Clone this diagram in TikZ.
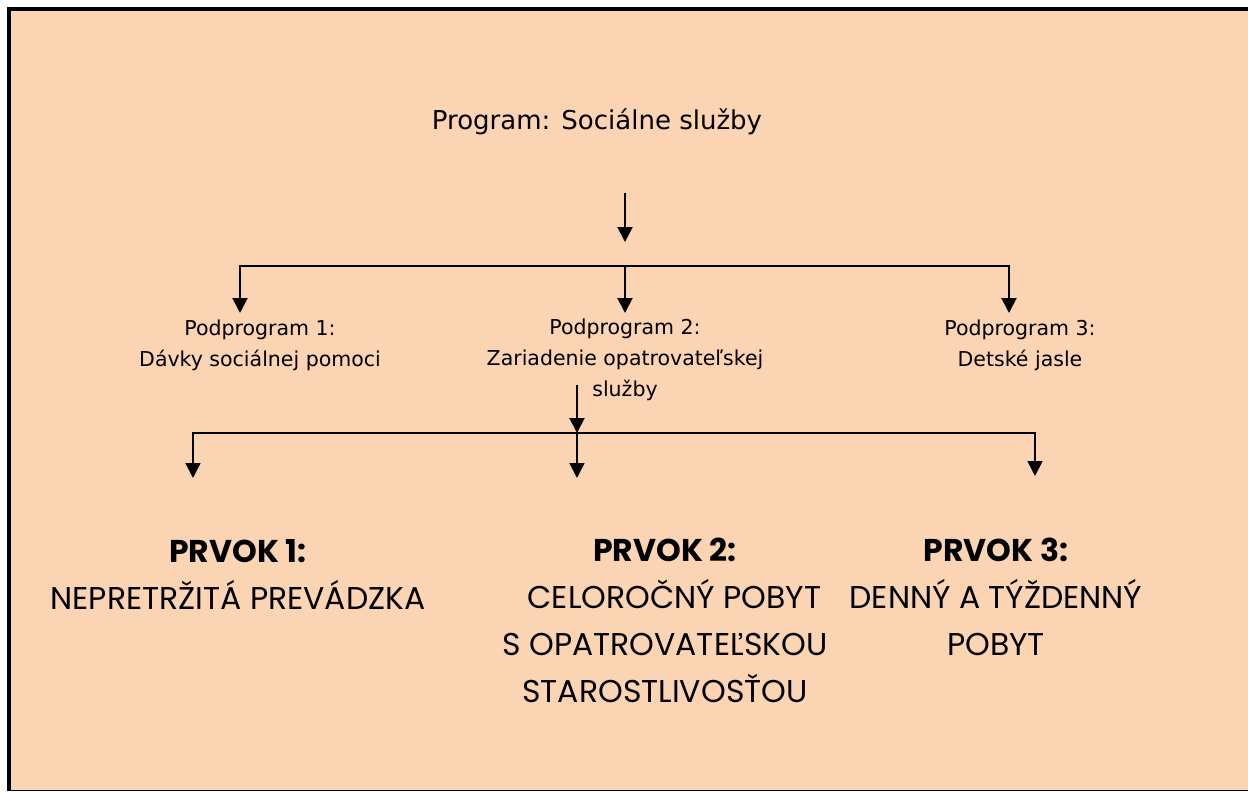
\documentclass[tikz,border=0pt]{standalone}
\usepackage{fontspec}
\setmainfont{DejaVu Sans}
\newfontfamily\gothic{Poppins}
\usetikzlibrary{arrows.meta}
\definecolor{peach}{HTML}{FBD4B4}
\begin{document}
\begin{tikzpicture}[x=1pt,y=-1pt,
  conn/.style={line width=2pt,-{Triangle[width=15pt,length=15pt]}},
  sub/.style={font=\fontsize{20.5}{31}\selectfont, align=center, inner sep=0pt},
  elem/.style={font=\gothic\fontsize{31.5}{47}\selectfont, align=center, inner sep=0pt}]
\useasboundingbox (0,0) rectangle (1248,792);
\fill[peach] (9,9) rectangle (1248,791);
\draw[line width=4pt] (9,791) -- (9,9) -- (1248,9);
\draw[line width=1.5pt] (9,790.5) -- (1248,790.5);

\node[sub, font=\fontsize{26}{31}\selectfont] (prog) at (597,122) {Program: Sociálne služby};

\node[sub] (p1) at (260,345) {Podprogram 1:\\Dávky sociálnej pomoci};
\node[sub] (p2) at (625,360) {Podprogram 2:\\Zariadenie opatrovateľskej\\služby};
\node[sub] (p3) at (1020,345) {Podprogram 3:\\Detské jasle};

\node[elem] (e1) at (238,574) {\textbf{PRVOK 1:}\\NEPRETRŽITÁ PREVÁDZKA};
\node[elem] (e2) at (665,620) {\textbf{PRVOK 2:}\\\hspace*{0.6em}CELOROČNÝ POBYT\\S OPATROVATEĽSKOU\\STAROSTLIVOSŤOU};
\node[elem] (e3) at (996,597) {\textbf{PRVOK 3:}\\DENNÝ A TÝŽDENNÝ\\POBYT};

\coordinate (t1) at (625,193);
\coordinate (t2) at (625,242);
\coordinate (h1M) at (625,266);
\coordinate (h1L) at (240,266);
\coordinate (h1R) at (1009,266);
\coordinate (a1) at (240,313);
\coordinate (a2) at (625,313);
\coordinate (a3) at (1009,313);

\draw[conn] (t1) -- (t2);
\draw[conn] (h1M) -- (h1L) -- (a1);
\draw[conn] (h1M) -- (a2);
\draw[conn] (h1M) -- (h1R) -- (a3);

\coordinate (m1) at (577,385);
\coordinate (h2M) at (577,433);
\coordinate (h2L) at (193,433);
\coordinate (h2R) at (1035,433);
\coordinate (b1) at (193,478);
\coordinate (b2) at (577,478);
\coordinate (b3) at (1035,476);

\draw[conn] (m1) -- (h2M);
\draw[conn,line width=1.7pt] (h2M) -- (h2L) -- (b1);
\draw[conn,line width=1.7pt] (h2M) -- (b2);
\draw[conn,line width=1.7pt] (h2M) -- (h2R) -- (b3);
\end{tikzpicture}
\end{document}
